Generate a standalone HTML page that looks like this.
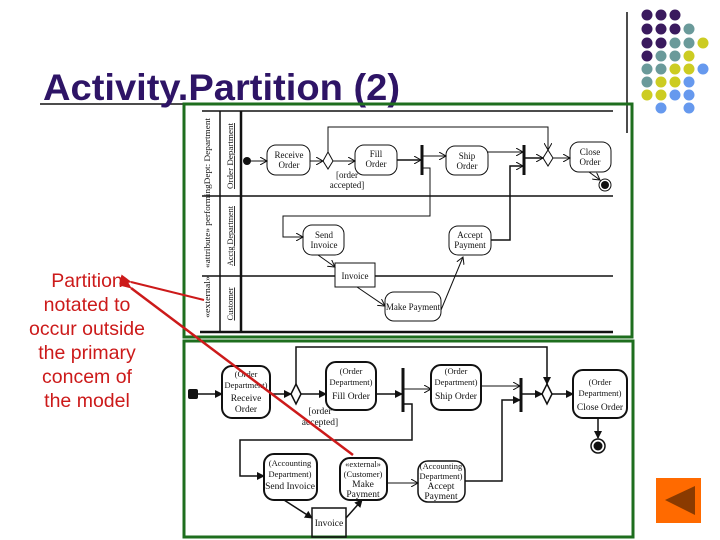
<!DOCTYPE html>
<html><head><meta charset="utf-8"><style>
body{margin:0;background:#fff}
svg{display:block}
.t{font-family:"Liberation Serif",serif;font-size:9px;fill:#111}
.s{font-family:"Liberation Serif",serif;font-size:8.5px;fill:#111}
</style></head><body>
<svg width="720" height="540" viewBox="0 0 720 540" xmlns="http://www.w3.org/2000/svg">
<defs>
<marker id="a" markerWidth="8" markerHeight="8" refX="7" refY="4" orient="auto" markerUnits="userSpaceOnUse"><path d="M0,0 L7,4 L0,8" fill="none" stroke="#111" stroke-width="1"/></marker>
<marker id="b" markerWidth="8" markerHeight="8" refX="7" refY="4" orient="auto" markerUnits="userSpaceOnUse"><path d="M0,0 L8,4 L0,8 Z" fill="#111"/></marker>
<marker id="r" markerWidth="12" markerHeight="10" refX="1" refY="5" orient="auto" markerUnits="userSpaceOnUse"><path d="M12,0 L0,5 L12,10 Z" fill="#cc1a1a"/></marker>
</defs>
<g>
<circle cx="647" cy="15" r="5.5" fill="#3a1a5e"/><circle cx="661" cy="15" r="5.5" fill="#3a1a5e"/><circle cx="675" cy="15" r="5.5" fill="#3a1a5e"/>
<circle cx="647" cy="29" r="5.5" fill="#3a1a5e"/><circle cx="661" cy="29" r="5.5" fill="#3a1a5e"/><circle cx="675" cy="29" r="5.5" fill="#3a1a5e"/><circle cx="689" cy="29" r="5.5" fill="#6a9a9a"/>
<circle cx="647" cy="43" r="5.5" fill="#3a1a5e"/><circle cx="661" cy="43" r="5.5" fill="#3a1a5e"/><circle cx="675" cy="43" r="5.5" fill="#6a9a9a"/><circle cx="689" cy="43" r="5.5" fill="#6a9a9a"/><circle cx="703" cy="43" r="5.5" fill="#cccc22"/>
<circle cx="647" cy="56" r="5.5" fill="#3a1a5e"/><circle cx="661" cy="56" r="5.5" fill="#6a9a9a"/><circle cx="675" cy="56" r="5.5" fill="#6a9a9a"/><circle cx="689" cy="56" r="5.5" fill="#cccc22"/>
<circle cx="647" cy="69" r="5.5" fill="#6a9a9a"/><circle cx="661" cy="69" r="5.5" fill="#6a9a9a"/><circle cx="675" cy="69" r="5.5" fill="#cccc22"/><circle cx="689" cy="69" r="5.5" fill="#cccc22"/><circle cx="703" cy="69" r="5.5" fill="#6699ee"/>
<circle cx="647" cy="82" r="5.5" fill="#6a9a9a"/><circle cx="661" cy="82" r="5.5" fill="#cccc22"/><circle cx="675" cy="82" r="5.5" fill="#cccc22"/><circle cx="689" cy="82" r="5.5" fill="#6699ee"/>
<circle cx="647" cy="95" r="5.5" fill="#cccc22"/><circle cx="661" cy="95" r="5.5" fill="#cccc22"/><circle cx="675" cy="95" r="5.5" fill="#6699ee"/><circle cx="689" cy="95" r="5.5" fill="#6699ee"/>
<circle cx="661" cy="108" r="5.5" fill="#6699ee"/><circle cx="689" cy="108" r="5.5" fill="#6699ee"/>
</g>
<line x1="627" y1="12" x2="627" y2="133" stroke="#111" stroke-width="1.5"/>
<line x1="40" y1="104" x2="400" y2="104" stroke="#111" stroke-width="1.5"/>
<text x="43" y="100" font-family="Liberation Sans,sans-serif" font-size="37" font-weight="bold" fill="#2e1466" textLength="357" lengthAdjust="spacingAndGlyphs">Activity.Partition (2)</text>
<g font-family="Liberation Sans,sans-serif" font-size="19.5" fill="#cc1a1a" text-anchor="middle">
<text x="87" y="287">Partition</text><text x="87" y="311">notated to</text><text x="87" y="335">occur outside</text><text x="87" y="359">the primary</text><text x="87" y="383">concem of</text><text x="87" y="407">the model</text>
</g>
<rect x="184" y="104" width="448" height="233" fill="none" stroke="#1e6e1e" stroke-width="3"/>
<rect x="184" y="341" width="449" height="196" fill="none" stroke="#1e6e1e" stroke-width="3"/>
<g stroke="#111" fill="none">
<line x1="202" y1="111" x2="613" y2="111" stroke-width="1.5"/>
<line x1="202" y1="196" x2="613" y2="196" stroke-width="1.5"/>
<line x1="202" y1="276" x2="613" y2="276" stroke-width="1.5"/>
<line x1="200" y1="332" x2="613" y2="332" stroke-width="2.5"/>
<line x1="220" y1="111" x2="220" y2="332" stroke-width="1.5"/>
<line x1="241" y1="111" x2="241" y2="332" stroke-width="2.5"/>
<rect x="267" y="145" width="43" height="30" rx="9"/>
<rect x="355" y="145" width="42" height="30" rx="9"/>
<rect x="446" y="146" width="42" height="29" rx="9"/>
<rect x="570" y="142" width="41" height="30" rx="9"/>
<rect x="303" y="225" width="41" height="30" rx="9"/>
<rect x="449" y="226" width="42" height="29" rx="9"/>
<rect x="385" y="292" width="56" height="29" rx="9"/>
<rect x="335" y="263" width="40" height="24" fill="#fff"/>
<path d="M328,152 L333,161 L328,169 L323,161 Z"/>
<path d="M548,150 L553,158 L548,166 L543,158 Z"/>
<line x1="422" y1="145" x2="422" y2="175" stroke-width="3"/>
<line x1="524" y1="145" x2="524" y2="175" stroke-width="3"/>
<circle cx="605" cy="185" r="6"/>
<line x1="250" y1="161" x2="267" y2="161" marker-end="url(#a)"/>
<line x1="310" y1="161" x2="323" y2="161" marker-end="url(#a)"/>
<line x1="333" y1="161" x2="355" y2="161" marker-end="url(#a)"/>
<line x1="397" y1="160" x2="421" y2="160" stroke-width="1.5" marker-end="url(#a)"/>
<line x1="423" y1="156" x2="446" y2="156" marker-end="url(#a)"/>
<line x1="488" y1="152" x2="523" y2="152" marker-end="url(#a)"/>
<line x1="525" y1="158" x2="543" y2="158" stroke-width="1.5" marker-end="url(#a)"/>
<line x1="553" y1="158" x2="570" y2="158" marker-end="url(#a)"/>
<path d="M328,152 V127 H548 V150" marker-end="url(#a)"/>
<path d="M423,168 H430 V216 H283 V237 H303" marker-end="url(#a)"/>
<path d="M491,240 H510 V166 H523" stroke-width="1.5" marker-end="url(#a)"/>
<line x1="589" y1="172" x2="600" y2="180" marker-end="url(#a)"/>
<line x1="318" y1="255" x2="335" y2="267" marker-end="url(#a)"/>
<line x1="357" y1="287" x2="385" y2="306" marker-end="url(#a)"/>
<path d="M441,310 L463,257" marker-end="url(#a)"/>
</g>
<circle cx="247" cy="161" r="4" fill="#111"/>
<circle cx="605" cy="185" r="4" fill="#111"/>
<g class="t" text-anchor="middle">
<text x="289" y="158">Receive</text><text x="289" y="168">Order</text>
<text x="376" y="157">Fill</text><text x="376" y="167">Order</text>
<text x="467" y="159">Ship</text><text x="467" y="169">Order</text>
<text x="590" y="155">Close</text><text x="590" y="165">Order</text>
<text x="324" y="238">Send</text><text x="324" y="248">Invoice</text>
<text x="470" y="238">Accept</text><text x="470" y="248">Payment</text>
<text x="355" y="279">Invoice</text>
<text x="413" y="310">Make Payment</text>
<text x="347" y="178">[order</text><text x="347" y="188">accepted]</text>
</g>
<g class="s" text-anchor="middle">
<text transform="translate(210,193) rotate(-90)" textLength="150" lengthAdjust="spacingAndGlyphs">«attribute» performingDept: Department</text>
<text transform="translate(210,297) rotate(-90)" textLength="42" lengthAdjust="spacingAndGlyphs">«external»</text>
<text transform="translate(233,156) rotate(-90)" text-decoration="underline" textLength="66" lengthAdjust="spacingAndGlyphs">Order Department</text>
<text transform="translate(233,236) rotate(-90)" text-decoration="underline" textLength="60" lengthAdjust="spacingAndGlyphs">Acctg Department</text>
<text transform="translate(233,304) rotate(-90)" text-decoration="underline">Customer</text>
</g>
<g stroke="#111" fill="none" stroke-width="1.5">
<rect x="222" y="366" width="48" height="52" rx="10" stroke-width="2"/>
<rect x="326" y="362" width="50" height="48" rx="10" stroke-width="2"/>
<rect x="431" y="365" width="50" height="45" rx="10" stroke-width="2"/>
<rect x="573" y="370" width="54" height="48" rx="10" stroke-width="2"/>
<rect x="264" y="454" width="53" height="46" rx="10" stroke-width="2"/>
<rect x="340" y="458" width="47" height="42" rx="10" stroke-width="2"/>
<rect x="418" y="461" width="47" height="41" rx="10"/>
<rect x="312" y="508" width="34" height="29"/>
<path d="M296,384 L301,394 L296,404 L291,394 Z"/>
<path d="M547,384 L552,394 L547,404 L542,394 Z"/>
<line x1="403" y1="368" x2="403" y2="412" stroke-width="3"/>
<line x1="521" y1="378" x2="521" y2="412" stroke-width="3"/>
<circle cx="598" cy="446" r="7"/>
<line x1="197" y1="394" x2="222" y2="394" marker-end="url(#b)"/>
<line x1="270" y1="394" x2="291" y2="394" marker-end="url(#b)"/>
<line x1="301" y1="394" x2="326" y2="394" marker-end="url(#b)"/>
<line x1="376" y1="394" x2="402" y2="394" marker-end="url(#b)"/>
<line x1="404" y1="389" x2="431" y2="389" stroke-width="1" marker-end="url(#a)"/>
<line x1="481" y1="386" x2="520" y2="386" stroke-width="1" marker-end="url(#a)"/>
<line x1="522" y1="394" x2="542" y2="394" marker-end="url(#b)"/>
<line x1="552" y1="394" x2="573" y2="394" marker-end="url(#b)"/>
<line x1="598" y1="418" x2="598" y2="438" marker-end="url(#b)"/>
<path d="M296,384 V347 H547 V384" marker-end="url(#b)"/>
<path d="M404,404 H412 V440 H240 V476 H264" marker-end="url(#b)"/>
<path d="M465,481 H502 V400 H520" marker-end="url(#b)"/>
<line x1="387" y1="483" x2="418" y2="483" stroke-width="1" marker-end="url(#a)"/>
<line x1="284" y1="500" x2="312" y2="518" marker-end="url(#b)"/>
<line x1="346" y1="518" x2="362" y2="500" marker-end="url(#b)"/>
</g>
<rect x="188" y="389" width="10" height="10" rx="2" fill="#111"/>
<circle cx="598" cy="446" r="4.5" fill="#111"/>
<g class="s" text-anchor="middle">
<text x="246" y="377">(Order</text><text x="246" y="388">Department)</text><text x="246" y="401" font-size="9.5">Receive</text><text x="246" y="412" font-size="9.5">Order</text>
<text x="351" y="374">(Order</text><text x="351" y="385">Department)</text><text x="351" y="399" font-size="9.5">Fill Order</text>
<text x="456" y="374">(Order</text><text x="456" y="385">Department)</text><text x="456" y="399" font-size="9.5">Ship Order</text>
<text x="600" y="385">(Order</text><text x="600" y="396">Department)</text><text x="600" y="410" font-size="9.5">Close Order</text>
<text x="290" y="466">(Accounting</text><text x="290" y="477">Department)</text><text x="290" y="489" font-size="9.5">Send Invoice</text>
<text x="363" y="467">«external»</text><text x="363" y="477">(Customer)</text><text x="363" y="487" font-size="9.5">Make</text><text x="363" y="497" font-size="9.5">Payment</text>
<text x="441" y="469">(Accounting</text><text x="441" y="479">Department)</text><text x="441" y="489" font-size="9.5">Accept</text><text x="441" y="499" font-size="9.5">Payment</text>
<text x="329" y="526" font-size="9.5">Invoice</text>
<text x="320" y="414" font-size="9.5">[order</text><text x="320" y="425" font-size="9.5">accepted]</text>
</g>
<line x1="204" y1="300" x2="131" y2="282" stroke="#cc1a1a" stroke-width="2" marker-end="url(#r)"/>
<line x1="353" y1="455" x2="131" y2="288" stroke="#cc1a1a" stroke-width="2.5" marker-end="url(#r)"/>
<rect x="656" y="478" width="45" height="45" fill="#ff6a00"/>
<path d="M665,500 L695,486 L695,515 Z" fill="#8a3a00"/>
</svg>
</body></html>
